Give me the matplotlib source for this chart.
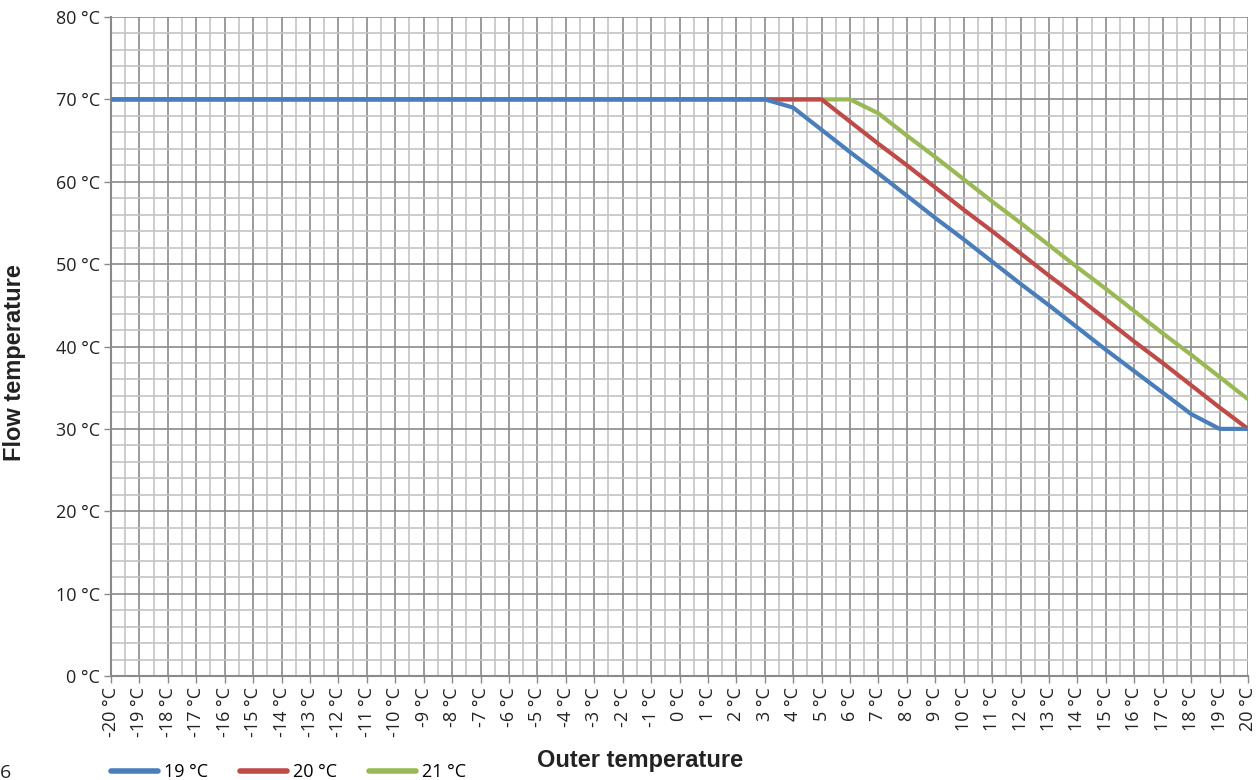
import matplotlib
matplotlib.use("Agg")
import matplotlib.pyplot as plt
from matplotlib.ticker import MultipleLocator, FixedLocator
from matplotlib.lines import Line2D

outer = list(range(-20, 21))
flow_19 = [70]*24 + [69.0, 66.3, 63.6, 61.0, 58.3, 55.6, 53.0, 50.3, 47.6, 45.0, 42.3, 39.6, 37.0, 34.4, 31.8, 30.0, 30.0]
flow_20 = [70]*26 + [67.3, 64.6, 62.0, 59.3, 56.6, 54.0, 51.3, 48.6, 46.0, 43.3, 40.6, 38.0, 35.3, 32.6, 30.0]
flow_21 = [70]*27 + [68.3, 65.6, 63.0, 60.3, 57.6, 55.0, 52.3, 49.6, 47.0, 44.3, 41.6, 39.0, 36.3, 33.6]
series_names = ["19 °C", "20 °C", "21 °C"]
colors = ["#4a7ebb", "#be4b48", "#98b954"]
x_labels = [f"{v} °C" for v in outer]
y_ticks = [0, 10, 20, 30, 40, 50, 60, 70, 80]
y_labels = [f"{v} °C" for v in y_ticks]

tick_font = ["Open Sans", "DejaVu Sans"]
label_font = ["Liberation Sans", "DejaVu Sans"]

fig = plt.figure(figsize=(12.57, 7.8), dpi=100)
ax = fig.add_axes([111/1257, 1-676/780, (1248-111)/1257, (676-17)/780])

for ys, c in zip([flow_19, flow_20, flow_21][::-1], colors[::-1]):
    ax.plot(outer, ys, color=c, lw=3, solid_capstyle="butt", zorder=3)

ax.set_xlim(-20, 20)
ax.set_ylim(0, 80)
ax.xaxis.set_major_locator(FixedLocator(outer))
ax.xaxis.set_minor_locator(MultipleLocator(0.5))
ax.yaxis.set_major_locator(FixedLocator(y_ticks))
ax.yaxis.set_minor_locator(MultipleLocator(2))
ax.set_xticklabels(x_labels, rotation=90, fontsize=13, family=tick_font)
ax.set_yticklabels(y_labels, fontsize=13, family=tick_font)

ax.grid(which="minor", color="#c4c4c4", lw=1.2, zorder=0)
ax.grid(which="major", color="#8a8a8a", lw=1.2, zorder=1)
ax.set_axisbelow(True)
ax.tick_params(axis="both", which="minor", length=0)
ax.tick_params(axis="both", which="major", length=5, width=1, color="#8a8a8a", direction="out", pad=3, labelcolor="#222222")
for side in ["top", "right"]:
    ax.spines[side].set_visible(False)
for side in ["left", "bottom"]:
    ax.spines[side].set_color("#8a8a8a")
    ax.spines[side].set_linewidth(1.5)

fig.text(640/1257, 1-760/780, "Outer temperature", ha="center", va="center", fontsize=17, fontweight="bold", family=label_font, color="#222222")
fig.text(15/1257, 1-363/780, "Flow temperature", ha="center", va="center", rotation=90, fontsize=17, fontweight="bold", family=label_font, color="#222222")
fig.text(0/1257, 1-773/780, "6", ha="left", va="center", fontsize=14, family=tick_font, color="#222222")

handles = [Line2D([0], [0], color=c, lw=4, solid_capstyle="round") for c in colors]
leg = fig.legend(handles, series_names, loc="center left", bbox_to_anchor=(104/1257, 1-772/780), ncol=3, frameon=False,
                 prop={"family": tick_font, "size": 13}, handlelength=2.6, handletextpad=0.3, columnspacing=1.8, borderaxespad=0)

fig.savefig("out.png", dpi=100)
